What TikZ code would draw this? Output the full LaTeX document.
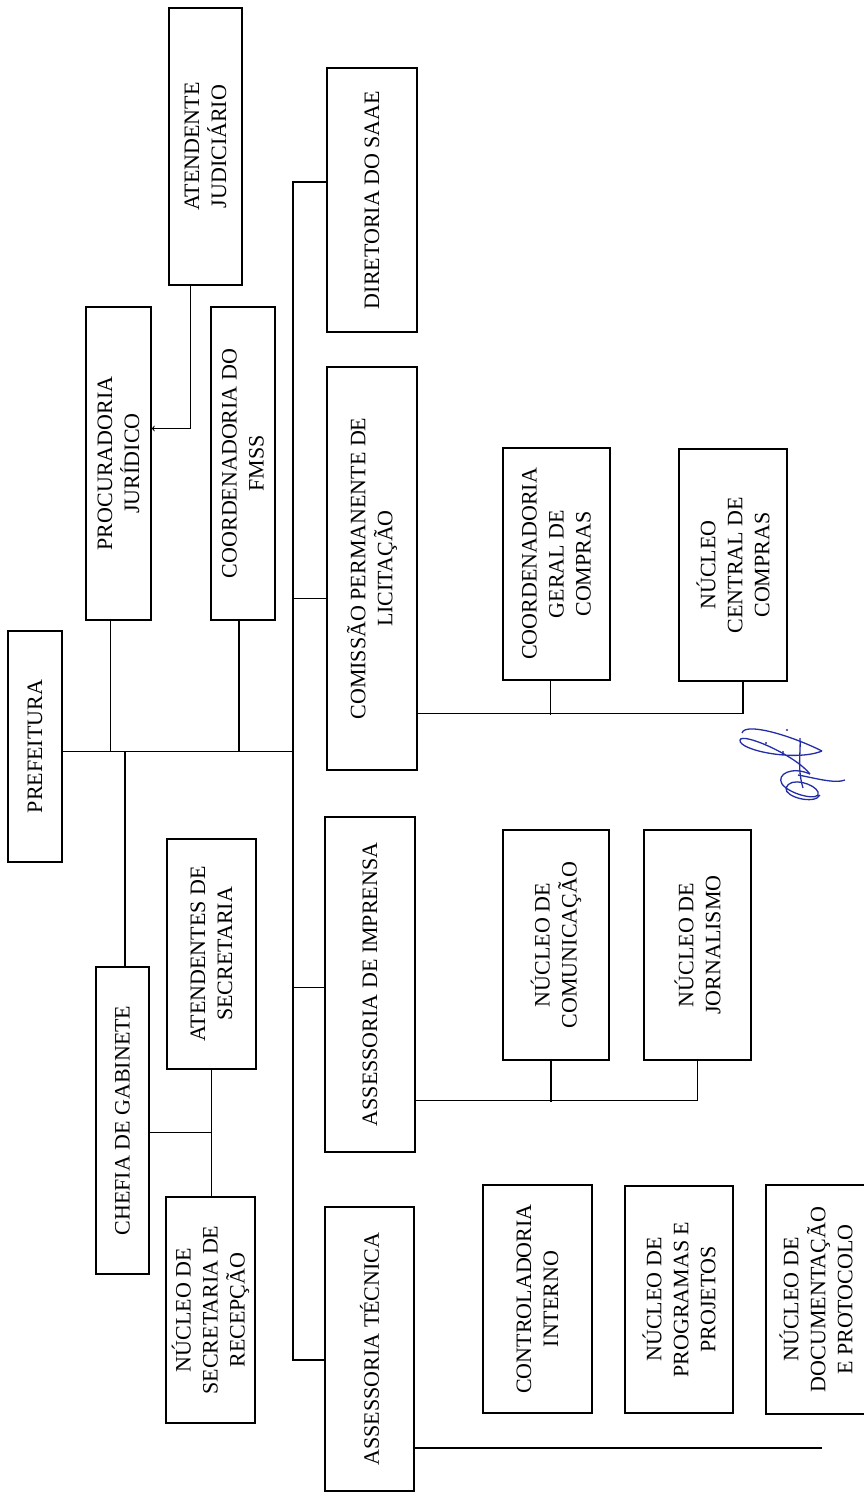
\documentclass[tikz,border=0pt]{standalone}
\usepackage{fontspec}
\setmainfont{Liberation Serif}
\usetikzlibrary{calc}
\definecolor{sigblue}{RGB}{35,45,165}

\begin{document}
\begin{tikzpicture}[x=1pt,y=-1pt,
    unit/.style 2 args={draw,line width=1.3pt,rotate=90,align=center,inner sep=2pt,
      minimum width=#1,minimum height=#2,font=\fontsize{22}{27}\selectfont},
    link/.style={line width=1.1pt}]
\useasboundingbox (0,0) rectangle (863,1492);

% boxes (rotated, text reads bottom to top)
\node[unit={231pt}{54pt}] (pref) at (35,746.5) {PREFEITURA};
\node[unit={313pt}{65pt}] (proc) at (118.5,463.5) {PROCURADORIA\\JURÍDICO};
\node[unit={277pt}{73pt}] (atjud) at (205.5,146.5) {ATENDENTE\\JUDICIÁRIO};
\node[unit={313pt}{64pt}] (fmss) at (243,463.5) {COORDENADORIA DO\\FMSS};
\node[unit={264pt}{90pt}] (saae) at (372,200) {DIRETORIA DO SAAE};
\node[unit={403pt}{90pt}] (licit) at (372,568.5) {COMISSÃO PERMANENTE DE\\LICITAÇÃO};
\node[unit={232pt}{107pt}] (coord) at (556.5,564) {COORDENADORIA\\GERAL DE\\COMPRAS};
\node[unit={232pt}{108pt}] (central) at (733,565) {NÚCLEO\\CENTRAL DE\\COMPRAS};
\node[unit={230pt}{89pt}] (atsec) at (211.5,954) {ATENDENTES DE\\SECRETARIA};
\node[unit={335pt}{90pt}] (impr) at (370,984.5) {ASSESSORIA DE IMPRENSA};
\node[unit={230pt}{106pt}] (comun) at (556,945) {NÚCLEO DE\\COMUNICAÇÃO};
\node[unit={230pt}{107pt}] (jorn) at (697.5,945) {NÚCLEO DE\\JORNALISMO};
\node[unit={307pt}{53pt}] (chefia) at (122.5,1120.5) {CHEFIA DE GABINETE};
\node[unit={226pt}{89pt}] (recep) at (210.5,1310) {NÚCLEO DE\\SECRETARIA DE\\RECEPÇÃO};
\node[unit={284pt}{89pt}] (tecn) at (369.5,1349) {ASSESSORIA TÉCNICA};
\node[unit={228pt}{109pt}] (contr) at (537.5,1299) {CONTROLADORIA\\INTERNO};
\node[unit={227pt}{108pt}] (progr) at (679,1299.5) {NÚCLEO DE\\PROGRAMAS E\\PROJETOS};
\node[unit={229pt}{100pt}] (docum) at (816,1299.5) {NÚCLEO DE\\DOCUMENTAÇÃO\\E PROTOCOLO};

% main spine
\coordinate (spine) at (293,182);
\draw[link] ($(saae.north)+(0,-18)$) -- (spine) |- ($(tecn.north)+(0,11)$);
\draw[link] ($(licit.north)+(0,30)$) coordinate (l1) -- (l1 -| spine);
\draw[link] ($(impr.north)+(0,3)$) coordinate (i1) -- (i1 -| spine);

% prefeitura level
\draw[link] ($(pref.south)+(0,5)$) coordinate (pj) -- (pj -| spine);
\draw[link] ($(proc.west)+(-8,0)$) coordinate (pw) -- (pw |- pj);
\draw[link] ($(fmss.west)+(-4,0)$) coordinate (fw) -- (fw |- pj);
\draw[link] ($(chefia.east)+(2.5,0)$) coordinate (cw) -- (cw |- pj);
\draw[link,->] ($(atjud.west)+(-15,0)$) |- ($(proc.south)+(0,-35)$);

% gabinete
\draw[link] (atsec.west) -- (atsec.west |- recep.east);
\draw[link] ($(chefia.south)+(0,12)$) coordinate (cs) -- (cs -| atsec.west);

% licitacao and imprensa branches
\draw[link] ($(licit.south)+(0,145)$) -| ($(central.west)+(10,0)$);
\draw[link] ($(coord.west)+(-6,0)$) -- ++(0,34);
\draw[link] ($(impr.south)+(0,116)$) -| (jorn.west);
\draw[link] ($(comun.west)+(-5,0)$) -- ++(0,41);

% tecnica
\coordinate (tecend) at (822,1448);
\draw[link] ($(tecn.south)+(0,99)$) -- (tecend);

% signature
\begin{scope}[sigblue,line width=1.3pt]
\draw (742,733) .. controls (745,722) and (790,735) .. (822,751);
\draw (822,751) .. controls (795,762) and (738,750) .. (740,740) .. controls (742,732) and (795,755) .. (810,774);
\draw (810,774) .. controls (792,766) and (776,774) .. (782,784) .. controls (790,795) and (822,802) .. (818,792) .. controls (815,784) and (790,776) .. (786,788) .. controls (784,797) and (815,805) .. (820,795);
\draw (800,738) .. controls (801,752) and (797,768) .. (803,788);
\draw (798,775) .. controls (815,778) and (835,784) .. (845,780);
\fill (766,743) circle (1.2pt) (783,752) circle (1.2pt) (787,730) circle (1.2pt);
\end{scope}
\end{tikzpicture}
\end{document}
